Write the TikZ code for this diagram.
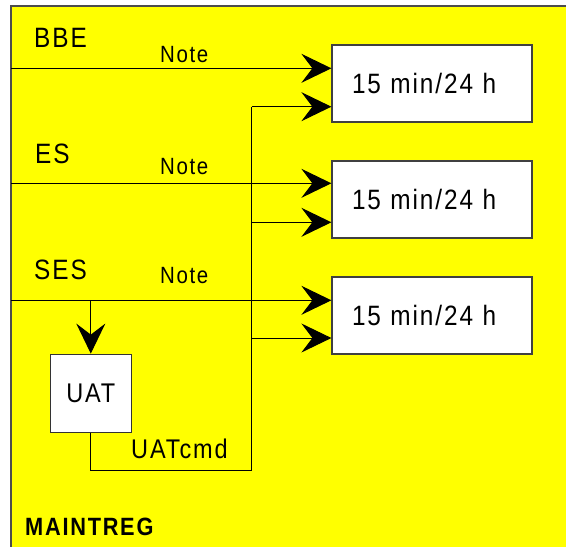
\documentclass[tikz,border=0pt]{standalone}
\usepackage{fontspec}
\setmainfont{Liberation Sans}[FakeStretch=0.87, LetterSpace=7]
\usetikzlibrary{arrows.meta}
\definecolor{ylw}{RGB}{255,255,0}
\tikzset{
  lbl/.style={inner sep=0pt, anchor=base west},
  big/.style={font=\fontsize{28}{30}\selectfont},
  small/.style={font=\fontsize{23.5}{26}\selectfont},
  timebox/.style={draw=black!75, line width=1.2pt, fill=white, minimum height=77pt,
    text width=160pt, inner xsep=20pt, inner ysep=0pt, align=left, font=\fontsize{28}{30}\selectfont},
  uatbox/.style={draw=black!80, line width=1.2pt, fill=white, minimum width=81pt, minimum height=78pt,
    inner sep=0pt, font=\fontsize{27}{30}\selectfont},
  wire/.style={line width=1pt, black},
  arr/.style={wire, -{Stealth[length=30pt, width=29pt, inset=11pt]}}
}
\begin{document}
\begin{tikzpicture}[x=1pt, y=-1pt]
\useasboundingbox (0,0) rectangle (566,547);
\clip (0,0) rectangle (566,547);
% frame
\draw[fill=ylw, draw=black!70, line width=1.2pt] (11,6) rectangle (580,560);
% boxes
\node[timebox] (b1) at (432,83.5) {15 min/24 h};
\node[timebox] (b2) at (432,199.5) {15 min/24 h};
\node[timebox] (b3) at (432,315.5) {15 min/24 h};
\node[uatbox] (uat) at (90.8,393.2) {UAT};
% coordinates
\coordinate (bbe) at (11,68.3);
\coordinate (es) at (11,183.3);
\coordinate (ses) at (11,300.3);
\coordinate (vtop) at (251.7,106.7);
\coordinate (v2) at (251.7,222.3);
\coordinate (v3) at (251.7,338);
\coordinate (vbot) at (251.7,470);
\coordinate (sesdrop) at (90.8,300.3);
% connectors
\draw[arr] (bbe) -- (b1.west |- bbe);
\draw[arr] (es) -- (b2.west |- es);
\draw[arr] (ses) -- (b3.west |- ses);
\draw[wire] (uat.south) |- (vbot) -- (vtop);
\draw[arr] (vtop) -- (b1.west |- vtop);
\draw[arr] (v2) -- (b2.west |- v2);
\draw[arr] (v3) -- (b3.west |- v3);
\draw[arr] (sesdrop) -- (uat.north);
% labels
\node[lbl, big] (tbbe) at (34,47) {BBE};
\node[lbl, big] (tes) at (35,163) {ES};
\node[lbl, big] (tses) at (34,279) {SES};
\node[lbl, small] (n1) at (160,62.7) {Note};
\node[lbl, small] (n2) at (160,174.3) {Note};
\node[lbl, small] (n3) at (160,283.3) {Note};
\node[lbl, font=\fontsize{27}{30}\selectfont] (cmd) at (131,458.3) {UATcmd};
\node[lbl, font=\fontsize{25}{28}\selectfont\bfseries] (mt) at (25,535) {MAINTREG};
\end{tikzpicture}
\end{document}
